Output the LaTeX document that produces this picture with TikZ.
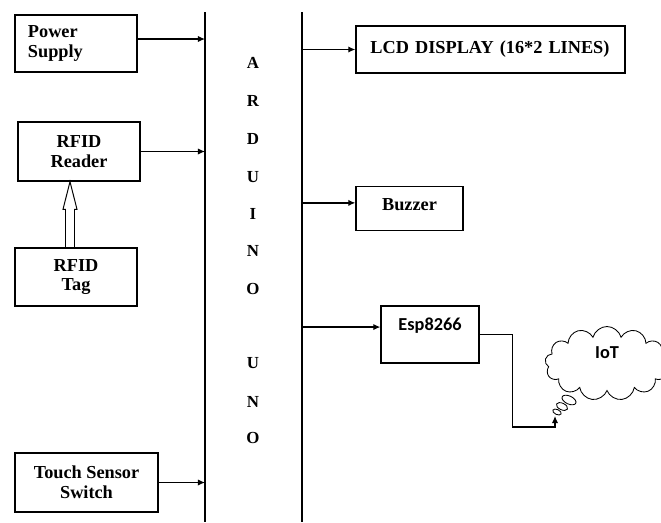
\documentclass[tikz,border=0pt]{standalone}
\usepackage{fontspec}
\setmainfont{Liberation Serif}
\newfontfamily\calib{Carlito}
\usetikzlibrary{arrows.meta,calc,positioning,shapes.symbols}

\begin{document}
\begin{tikzpicture}[x=0.025cm, y=-0.025cm, line width=0.9pt,
    font=\fontsize{13}{14}\selectfont\bfseries,
    blk/.style={draw, inner sep=0pt},
    arr/.style={-{Latex[length=5pt,width=4.5pt]}},
    ardtxt/.style={font=\fontsize{12}{13}\selectfont\bfseries},
    sanstxt/.style={font=\fontsize{13}{14}\selectfont\calib\bfseries}]
    \useasboundingbox (0,0) rectangle (661,522);

    % arduino uno bus
    \coordinate (busLtop) at (205,12);
    \coordinate (busLbot) at (205,522);
    \coordinate (busRtop) at (302,12);
    \coordinate (busRbot) at (302,522);
    \draw (busLtop) -- (busLbot);
    \draw (busRtop) -- (busRbot);
    \foreach \ch/\yy [count=\i] in {A/63,R/101,D/139,U/177,I/214,N/251,O/289,U/363,N/402,O/438}
        \node[ardtxt] (ard\i) at (253,\yy) {\ch};

    % inputs
    \node[blk, minimum width=3.05cm, minimum height=1.425cm, text width=2.4cm, align=left] (power) at (76,43.5) {Power\\Supply};
    \node[blk, minimum width=3.05cm, minimum height=1.475cm, align=center] (reader) at (79,151.5) {RFID\\Reader};
    \node[blk, minimum width=3.05cm, minimum height=1.45cm, align=center] (tag) at (76,277) {RFID\\Tag};
    \node[blk, minimum width=3.575cm, minimum height=1.475cm, align=center] (touch) at (86.5,482.5) {Touch Sensor\\Switch};

    \draw[arr] ([yshift=3.2pt]power.east) -- ([yshift=3.2pt]power.east -| busLtop);
    \draw[arr] (reader.east) -- (reader.east -| busLtop);
    \draw[arr] (touch.east) -- (touch.east -| busLtop);

    % hollow arrow tag -> reader
    \path (tag.north) ++(-6,0) coordinate (hbase);
    \coordinate (htip) at (hbase |- reader.south);
    \draw[line width=0.7pt] ($(hbase)+(-4.5,0)$) -- ($(hbase)+(-4.5,-38)$) -- ($(hbase)+(-7,-38)$) -- (htip)
        -- ($(hbase)+(7,-38)$) -- ($(hbase)+(4.5,-38)$) -- ($(hbase)+(4.5,0)$);

    % outputs
    \node[blk, minimum width=6.725cm, minimum height=1.175cm, text width=6cm, align=left] (lcd) at (490.5,49.5) {LCD DISPLAY (16*2 LINES)};
    \node[blk, minimum width=2.675cm, minimum height=1.1cm, text height=9pt, text depth=6.8pt] (buzzer) at (409.5,208.5) {Buzzer};
    \node[blk, sanstxt, minimum width=2.45cm, minimum height=1.425cm, text height=9pt, text depth=15.4pt] (esp) at (430,334.5) {Esp8266};

    \draw[arr] (lcd.west -| busRtop) -- (lcd.west);
    \draw[arr] ([yshift=4pt]buzzer.west -| busRtop) -- ([yshift=4pt]buzzer.west);
    \draw[arr] ([yshift=5.3pt]esp.west -| busRtop) -- ([yshift=5.3pt]esp.west);

    % iot cloud with thought bubbles
    \node[sanstxt, draw, line width=0.6pt, cloud, cloud puffs=13, aspect=1.6,
        minimum width=3.1cm, minimum height=1.85cm, inner sep=0pt,
        text height=9pt, text depth=16pt] (iot) at (607,363.5) {IoT};
    \draw[line width=0.6pt] (569,400) ellipse [x radius=7.5, y radius=4, rotate=-25];
    \draw[line width=0.6pt] (562,406.5) ellipse [x radius=6, y radius=3.3, rotate=-25];
    \draw[line width=0.6pt] (557,412) ellipse [x radius=4.5, y radius=2.5, rotate=-25];
    \coordinate (iotin) at (555,416);
    \draw[arr] (esp.east) -- ++(33,0) coordinate (espbend) |- ($(iotin)+(0,11)$) -- (iotin);
\end{tikzpicture}
\end{document}
